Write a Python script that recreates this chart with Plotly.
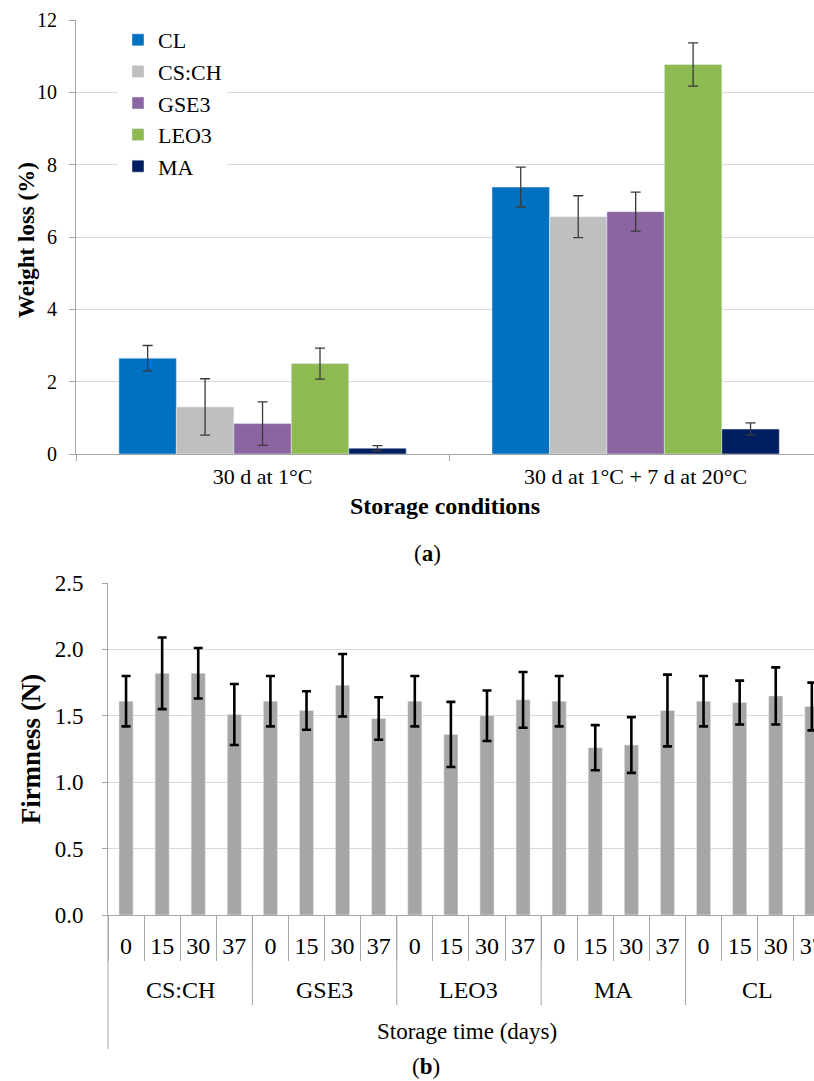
import plotly.graph_objects as go

# ---- Panel (a): weight loss ----
conditions = ["30 d at 1°C", "30 d at 1°C + 7 d at 20°C"]
treatments = ["CL", "CS:CH", "GSE3", "LEO3", "MA"]
colors_a = ["#0070C0", "#BFBFBF", "#8B64A2", "#8DBB51", "#001F60"]
wl_CL = [2.65, 7.38]
wl_CSCH = [1.30, 6.56]
wl_GSE3 = [0.84, 6.70]
wl_LEO3 = [2.50, 10.77]
wl_MA = [0.16, 0.69]
err_CL = [0.35, 0.55]
err_CSCH = [0.78, 0.58]
err_GSE3 = [0.60, 0.54]
err_LEO3 = [0.43, 0.60]
err_MA = [0.07, 0.17]

# ---- Panel (b): firmness ----
groups_b = ["CS:CH", "GSE3", "LEO3", "MA", "CL"]
days_b = ["0", "15", "30", "37"]
firm_CSCH = [1.61, 1.82, 1.82, 1.51]
firm_GSE3 = [1.61, 1.54, 1.73, 1.48]
firm_LEO3 = [1.61, 1.36, 1.50, 1.62]
firm_MA = [1.61, 1.26, 1.28, 1.54]
firm_CL = [1.61, 1.60, 1.65, 1.57]
ferr_CSCH = [0.19, 0.27, 0.19, 0.23]
ferr_GSE3 = [0.19, 0.145, 0.235, 0.16]
ferr_LEO3 = [0.19, 0.245, 0.19, 0.21]
ferr_MA = [0.19, 0.17, 0.21, 0.27]
ferr_CL = [0.19, 0.165, 0.215, 0.18]

SERIF = "Liberation Serif"
AX = "#A6A6A6"
W, H = 814, 1081


def py(px):
    return 1 - px / H


fig = go.Figure()

vals_a = [wl_CL, wl_CSCH, wl_GSE3, wl_LEO3, wl_MA]
errs_a = [err_CL, err_CSCH, err_GSE3, err_LEO3, err_MA]
for name, col, v, e in zip(treatments, colors_a, vals_a, errs_a):
    fig.add_trace(go.Bar(
        x=conditions, y=v, name=name, marker_color=col,
        error_y=dict(type="data", array=e, color="#3a3a3a", thickness=1.3, width=5),
        xaxis="x", yaxis="y",
    ))

firm_all = firm_CSCH + firm_GSE3 + firm_LEO3 + firm_MA + firm_CL
ferr_all = ferr_CSCH + ferr_GSE3 + ferr_LEO3 + ferr_MA + ferr_CL
x_ids = [f"{g}|{d}" for g in groups_b for d in days_b]
x_txt = [d for _ in groups_b for d in days_b]
fig.add_trace(go.Bar(
    x=x_ids, y=firm_all, marker_color="#A6A6A6", showlegend=False,
    error_y=dict(type="data", array=ferr_all, color="#000000", thickness=2.6, width=4.5),
    xaxis="x2", yaxis="y2", width=0.39,
))

# panel (b) axis geometry (pixels)
B_AXIS = 915
B_TOP = 583
n_days = len(days_b)

annotations = [
    dict(text="<b>Weight loss (%)</b>", x=27 / W, y=py(240), xref="paper", yref="paper",
         textangle=-90, xanchor="center", yanchor="middle",
         showarrow=False, font=dict(size=23, family=SERIF)),
    dict(text="(<b>a</b>)", x=427 / W, y=py(553), xref="paper", yref="paper",
         xanchor="center", yanchor="middle",
         showarrow=False, font=dict(size=23, family=SERIF)),
    dict(text="(<b>b</b>)", x=426 / W, y=py(1066), xref="paper", yref="paper",
         xanchor="center", yanchor="middle",
         showarrow=False, font=dict(size=23, family=SERIF)),
    dict(text="Storage time (days)", x=467 / W, y=py(1031), xref="paper", yref="paper",
         xanchor="center", yanchor="middle",
         showarrow=False, font=dict(size=23, family=SERIF)),
]
for i, g in enumerate(groups_b):
    annotations.append(dict(
        text=g, x=i * n_days + (n_days - 1) / 2, y=py(990), xref="x2", yref="paper",
        xanchor="center", yanchor="middle",
        showarrow=False, font=dict(size=24, family=SERIF)))

shapes = [dict(type="line", xref="x2 domain", yref="paper", x0=0, x1=0,
               y0=py(B_AXIS), y1=py(1049), line=dict(color=AX, width=1))]
for i in range(1, len(groups_b)):
    xb = i * n_days - 0.5
    shapes.append(dict(type="line", xref="x2", yref="paper", x0=xb, x1=xb,
                       y0=py(B_AXIS), y1=py(1005), line=dict(color=AX, width=1)))

fig.update_layout(
    width=W, height=H,
    margin=dict(l=0, r=0, t=0, b=0),
    paper_bgcolor="white", plot_bgcolor="white",
    barmode="group", bargap=0.23, bargroupgap=0,
    font=dict(family=SERIF, color="#000000"),
    showlegend=True,
    legend=dict(x=118 / W, y=py(19), xanchor="left", yanchor="top",
                bgcolor="white", font=dict(size=22, family=SERIF),
                traceorder="normal", itemwidth=30),
    xaxis=dict(domain=[76 / W, 1], anchor="y", type="category", automargin=False,
               range=[-0.5, 1.478], showline=True, linecolor=AX,
               ticks="outside", tickson="boundaries", ticklen=6, tickcolor=AX,
               ticklabelstandoff=3,
               tickfont=dict(size=22, family=SERIF),
               title=dict(text="<b>Storage conditions</b>", font=dict(size=24, family=SERIF), standoff=8)),
    yaxis=dict(domain=[py(454), py(20)], anchor="x", range=[0, 12], dtick=2, automargin=False,
               showgrid=True, gridcolor="#D9D9D9", showline=True, linecolor=AX,
               ticks="outside", ticklen=6, tickcolor=AX, zeroline=False,
               ticklabelstandoff=8,
               tickfont=dict(size=20, family=SERIF)),
    xaxis2=dict(domain=[108 / W, 1], anchor="y2", type="category", automargin=False,
                range=[-0.5, 19.06], showline=True, linecolor=AX,
                tickvals=x_ids, ticktext=x_txt,
                ticks="outside", tickson="boundaries", ticklen=45, tickcolor=AX,
                ticklabelstandoff=9,
                tickfont=dict(size=24, family=SERIF)),
    yaxis2=dict(domain=[py(B_AXIS), py(B_TOP)], anchor="x2", range=[0, 2.5], dtick=0.5,
                tickformat=".1f", showgrid=True, gridcolor="#D9D9D9", automargin=False,
                showline=True, linecolor=AX, zeroline=False,
                ticks="outside", ticklen=5, tickcolor=AX, ticklabelstandoff=14,
                tickfont=dict(size=23, family=SERIF),
                title=dict(text="<b>Firmness (N)</b>", font=dict(size=27, family=SERIF), standoff=6)),
    annotations=annotations,
    shapes=shapes,
)

fig.write_html("out.html")
